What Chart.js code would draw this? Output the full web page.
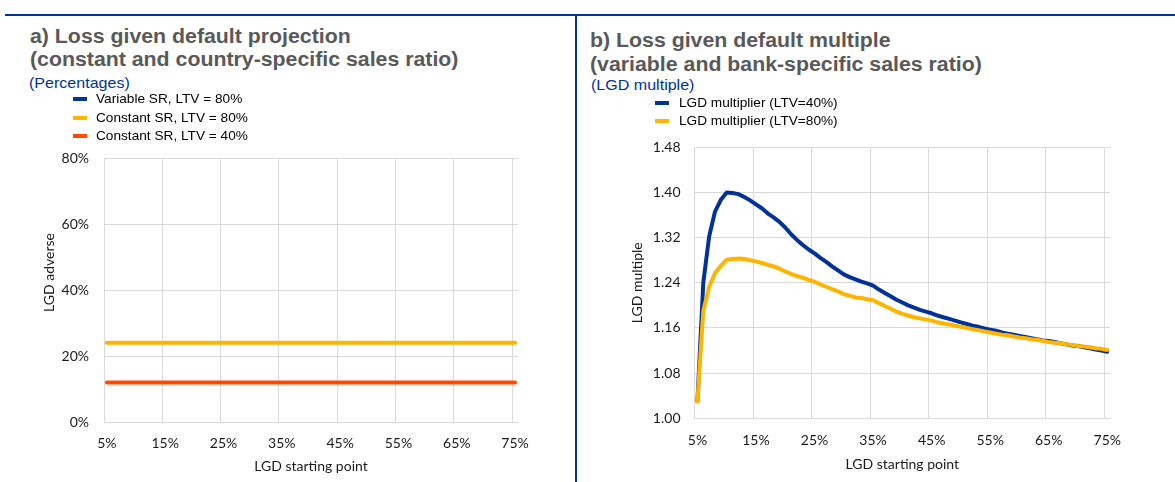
<!DOCTYPE html>
<html>
<head>
<meta charset="utf-8">
<script src="https://cdn.jsdelivr.net/npm/chart.js@4.4.1/dist/chart.umd.min.js"></script>
<style>
html,body{margin:0;padding:0;background:#fff;}
#page{position:relative;width:1175px;height:482px;overflow:hidden;font-family:"Liberation Sans",Arial,sans-serif;}
.hline{position:absolute;left:5px;top:13.5px;width:1170px;height:2px;background:#003299;}
.vline{position:absolute;left:575px;top:14px;width:2px;height:468px;background:#003299;}
.title{position:absolute;font-weight:bold;font-size:20px;color:#595959;white-space:nowrap;transform-origin:0 50%;transform:scaleX(1.065);}
.sub{position:absolute;font-size:15px;line-height:18px;color:#003299;white-space:nowrap;transform-origin:0 50%;transform:scaleX(1.07);}
.leg{position:absolute;font-size:13px;line-height:16px;color:#000;white-space:nowrap;}
.sw{position:absolute;width:14px;height:4px;}
.tx{position:absolute;transform-origin:0 50%;transform:scaleX(1.05);}
canvas{position:absolute;top:0;}
</style>
</head>
<body>
<div id="page">
  <div class="hline"></div>
  <div class="vline"></div>
  <div class="title" style="left:29.5px;top:24.5px;line-height:23.5px;">a) Loss given default projection<br>(constant and country-specific sales ratio)</div>
  <div class="sub" style="left:29px;top:74.3px;">(Percentages)</div>
  <div class="title" style="left:590px;top:27.5px;line-height:24px;">b) Loss given default multiple<br>(variable and bank-specific sales ratio)</div>
  <div class="sub" style="left:591px;top:76.2px;">(LGD multiple)</div>
  <canvas id="chartA" width="576" height="482" style="left:0;width:576px;height:482px;"></canvas>
  <canvas id="chartB" width="595" height="482" style="left:580px;width:595px;height:482px;"></canvas>
</div>
<script>
// ---------- DATA ----------
const categories = ['5%','6%','7%','8%','9%','10%','11%','12%','13%','14%',
  '15%','16%','17%','18%','19%','20%','21%','22%','23%','24%',
  '25%','26%','27%','28%','29%','30%','31%','32%','33%','34%',
  '35%','36%','37%','38%','39%','40%','41%','42%','43%','44%',
  '45%','46%','47%','48%','49%','50%','51%','52%','53%','54%',
  '55%','56%','57%','58%','59%','60%','61%','62%','63%','64%',
  '65%','66%','67%','68%','69%','70%','71%','72%','73%','74%',
  '75%'];
const tickLabels = ['5%','15%','25%','35%','45%','55%','65%','75%'];

// Panel a (percentages)
const seriesNamesA = ['Variable SR, LTV = 80%','Constant SR, LTV = 80%','Constant SR, LTV = 40%'];
const variableSR80 = [];
const constantSR80 = [24,24,24,24,24,24,24,24,24,24,
  24,24,24,24,24,24,24,24,24,24,
  24,24,24,24,24,24,24,24,24,24,
  24,24,24,24,24,24,24,24,24,24,
  24,24,24,24,24,24,24,24,24,24,
  24,24,24,24,24,24,24,24,24,24,
  24,24,24,24,24,24,24,24,24,24,
  24];
const constantSR40 = [12,12,12,12,12,12,12,12,12,12,
  12,12,12,12,12,12,12,12,12,12,
  12,12,12,12,12,12,12,12,12,12,
  12,12,12,12,12,12,12,12,12,12,
  12,12,12,12,12,12,12,12,12,12,
  12,12,12,12,12,12,12,12,12,12,
  12,12,12,12,12,12,12,12,12,12,
  12];
const yTicksA = [0,20,40,60,80];

// Panel b (LGD multiple)
const seriesNamesB = ['LGD multiplier (LTV=40%)','LGD multiplier (LTV=80%)'];
const multLTV40 = [1.030,1.240,1.322,1.366,1.387,1.400,1.399,1.397,1.392,1.386,
  1.379,1.372,1.363,1.356,1.348,1.338,1.326,1.316,1.307,1.299,
  1.292,1.284,1.277,1.269,1.262,1.255,1.250,1.246,1.242,1.239,
  1.235,1.228,1.222,1.216,1.210,1.205,1.200,1.196,1.192,1.189,
  1.186,1.182,1.179,1.176,1.173,1.170,1.167,1.164,1.162,1.159,
  1.157,1.155,1.152,1.150,1.148,1.146,1.144,1.142,1.140,1.138,
  1.137,1.135,1.133,1.131,1.129,1.128,1.126,1.124,1.122,1.120,
  1.118];
const multLTV80 = [1.030,1.190,1.233,1.257,1.270,1.281,1.282,1.283,1.282,1.280,
  1.278,1.275,1.272,1.269,1.265,1.260,1.256,1.252,1.249,1.245,
  1.242,1.237,1.233,1.229,1.225,1.220,1.217,1.214,1.213,1.211,
  1.209,1.204,1.199,1.194,1.189,1.185,1.182,1.179,1.177,1.175,
  1.173,1.170,1.168,1.166,1.164,1.162,1.160,1.158,1.156,1.154,
  1.152,1.150,1.148,1.147,1.145,1.143,1.142,1.140,1.139,1.137,
  1.135,1.134,1.133,1.131,1.130,1.128,1.127,1.126,1.124,1.123,
  1.121];
const yTicksB = [1.00,1.08,1.16,1.24,1.32,1.40,1.48];

// ---------- STYLE ----------
const BLUE = '#003299', YELLOW = '#FFB400', ORANGE = '#FF4B00';
const GRID = '#d9d9d9', TXT = '#1a1a1a';
const tickFont = {family:'Lato', size:14};

// ---------- LEGENDS (HTML) ----------
function legend(names, colors, swX, txX, centers){
  const page = document.getElementById('page');
  names.forEach((n,i)=>{
    const sw = document.createElement('div');
    sw.className='sw'; sw.style.background=colors[i];
    sw.style.left=swX+'px'; sw.style.top=(centers[i]-2)+'px';
    page.appendChild(sw);
    const tx = document.createElement('div');
    tx.className='leg tx'; tx.textContent=n;
    tx.style.left=txX+'px'; tx.style.top=(centers[i]-7.85)+'px';
    page.appendChild(tx);
  });
}
legend(seriesNamesA,[BLUE,YELLOW,ORANGE],73,96,[98.8,117.8,135.8]);
legend(seriesNamesB,[BLUE,YELLOW],655,678.5,[103.2,120.6]);

// ---------- HELPERS ----------
function xScale(height, titleBottom){
  return {
    type:'category', offset:true,
    grid:{offset:true, drawTicks:false, lineWidth:1,
      color: c => (c.index !== undefined && c.index % 10 === 0) ? GRID : 'rgba(0,0,0,0)'},
    border:{display:true, color:GRID},
    ticks:{autoSkip:false, maxRotation:0, minRotation:0, padding:13.3, font:tickFont, color:TXT,
      callback:(v,i)=> tickLabels.includes(categories[i]) ? categories[i] : ''},
    title:{display:true, text:'LGD starting point', font:tickFont, color:TXT, padding:{top:0,bottom:titleBottom}},
    afterFit: s => { s.height = height; }
  };
}
const lineDs = (label, data, color, order) => ({
  label, data, borderColor:color, backgroundColor:color, borderWidth:4,
  pointRadius:0, pointHoverRadius:0, tension:0, borderCapStyle:'round', borderJoinStyle:'round',
  fill:false, order
});

const leftYTitle = {
  id:'leftYTitle',
  afterDraw(chart, args, opts){
    const {ctx, chartArea} = chart;
    ctx.save();
    ctx.translate(opts.x, (chartArea.top + chartArea.bottom)/2 + opts.dy);
    ctx.rotate(-Math.PI/2);
    ctx.font = '14px Lato';
    ctx.fillStyle = TXT;
    ctx.textAlign = 'center';
    ctx.textBaseline = 'middle';
    ctx.fillText(opts.text, 0, 0);
    ctx.restore();
  }
};

// ---------- CHART A ----------
new Chart(document.getElementById('chartA'), {
  type:'line',
  data:{labels:categories, datasets:[
    lineDs(seriesNamesA[0], variableSR80, BLUE, 2),
    lineDs(seriesNamesA[1], constantSR80, YELLOW, 1),
    lineDs(seriesNamesA[2], constantSR40, ORANGE, 0)
  ]},
  options:{
    responsive:false, animation:false, devicePixelRatio:1,
    layout:{padding:{top:158, left:0, right:58, bottom:0}},
    plugins:{legend:{display:false}, tooltip:{enabled:false},
      leftYTitle:{text:'LGD adverse', x:49.5, dy:-17.5}},
    scales:{
      x: xScale(60, 7.6),
      y:{min:yTicksA[0], max:yTicksA[yTicksA.length-1],
        afterBuildTicks: s => { s.ticks = yTicksA.map(v=>({value:v})); },
        grid:{drawTicks:false, color:GRID, lineWidth:1},
        border:{display:true, color:GRID},
        ticks:{padding:15, font:tickFont, color:TXT, callback:v=>v+'%'},
        afterFit: s => { s.width = 104; }
      }
    }
  },
  plugins:[leftYTitle]
});

// ---------- CHART B ----------
new Chart(document.getElementById('chartB'), {
  type:'line',
  data:{labels:categories, datasets:[
    lineDs(seriesNamesB[0], multLTV40, BLUE, 1),
    lineDs(seriesNamesB[1], multLTV80, YELLOW, 0)
  ]},
  options:{
    responsive:false, animation:false, devicePixelRatio:1,
    layout:{padding:{top:147.3, left:0, right:64.8, bottom:0}},
    plugins:{legend:{display:false}, tooltip:{enabled:false}},
    scales:{
      x: xScale(63.7, 9.3),
      y:{min:yTicksB[0], max:yTicksB[yTicksB.length-1],
        afterBuildTicks: s => { s.ticks = yTicksB.map(v=>({value:v})); },
        grid:{drawTicks:false, color:GRID, lineWidth:1},
        border:{display:true, color:GRID},
        ticks:{padding:14, font:tickFont, color:TXT, callback:v=>Number(v).toFixed(2)},
        title:{display:true, text:'LGD multiple', font:tickFont, color:TXT, padding:{top:48.6,bottom:0}},
        afterFit: s => { s.width = 114.5; }
      }
    }
  }
});
</script>
</body>
</html>
